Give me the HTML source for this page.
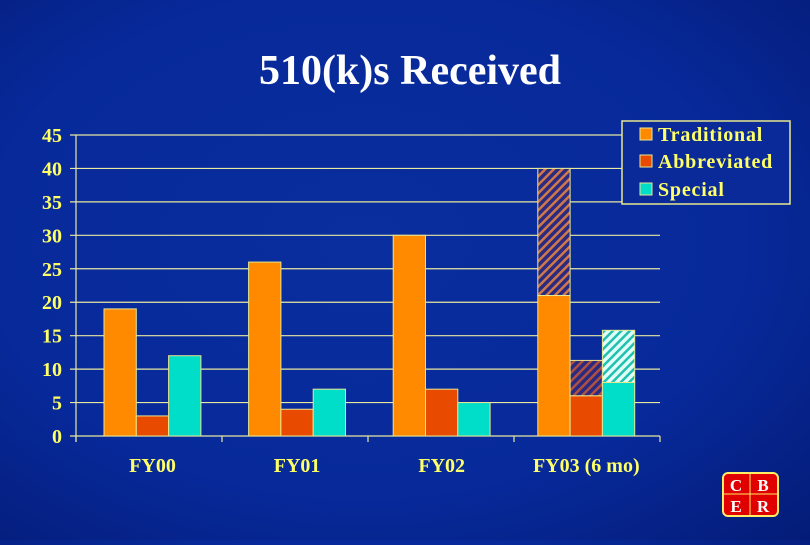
<!DOCTYPE html>
<html><head><meta charset="utf-8"><style>
html,body{margin:0;padding:0;}
body{width:810px;height:540px;overflow:hidden;background:radial-gradient(ellipse at 45% 45%,#0a2e9e 0%,#07299a 60%,#041c78 100%);}
svg text{font-family:"Liberation Serif",serif;font-weight:bold;}
</style></head><body>
<svg id="chart" width="810" height="540" viewBox="0 0 810 540" xmlns="http://www.w3.org/2000/svg">
<defs>
<pattern id="hatchO" patternUnits="userSpaceOnUse" width="6" height="6" patternTransform="rotate(45)">
<rect width="6" height="6" fill="#2a2a80"/><rect width="2.5" height="6" fill="#d0784a"/></pattern>
<pattern id="hatchR" patternUnits="userSpaceOnUse" width="6" height="6" patternTransform="rotate(45)">
<rect width="6" height="6" fill="#2a2a80"/><rect width="2.5" height="6" fill="#b05040"/></pattern>
<pattern id="hatchS" patternUnits="userSpaceOnUse" width="6" height="6" patternTransform="rotate(45)">
<rect width="6" height="6" fill="#e0fff8"/><rect width="2.5" height="6" fill="#20c0b0"/></pattern>
</defs>
<text x="410" y="84" text-anchor="middle" fill="#ffffff" font-size="42">510(k)s Received</text>
<g id="grid"></g><g id="bars"></g><g id="axes"></g>
<g>
<rect x="622" y="121" width="168" height="83" fill="#0a2a9a" stroke="#e8e890" stroke-width="1.5"/>
<rect x="640" y="128" width="12" height="12" fill="#ff8a00" stroke="#e8e890"/>
<text x="658" y="141" fill="#ffff66" font-size="20" letter-spacing="0.8">Traditional</text>
<rect x="640" y="155" width="12" height="12" fill="#e84a00" stroke="#e8e890"/>
<text x="658" y="168" fill="#ffff66" font-size="20" letter-spacing="0.8">Abbreviated</text>
<rect x="640" y="183" width="12" height="12" fill="#00ddc8" stroke="#e8e890"/>
<text x="658" y="196" fill="#ffff66" font-size="20" letter-spacing="0.8">Special</text>
</g>
<g>
<rect x="723" y="473" width="55" height="43" rx="5" fill="#e00000" stroke="#ffee66" stroke-width="2"/>
<line x1="750" y1="474" x2="750" y2="515" stroke="#ffee66"/><line x1="724" y1="494" x2="777" y2="494" stroke="#ffee66"/>
<text x="736" y="491" fill="#fff" font-size="17" font-weight="normal" text-anchor="middle">C</text>
<text x="763" y="491" fill="#fff" font-size="17" font-weight="normal" text-anchor="middle">B</text>
<text x="736" y="512" fill="#fff" font-size="17" font-weight="normal" text-anchor="middle">E</text>
<text x="763" y="512" fill="#fff" font-size="17" font-weight="normal" text-anchor="middle">R</text>
</g>
</svg>
<script>
const categories=["FY00","FY01","FY02","FY03 (6 mo)"];
const traditional=[19,26,30,21];
const abbreviated=[3,4,7,6];
const special=[12,7,5,8];
const projTraditional=[null,null,null,40];
const projAbbreviated=[null,null,null,11.3];
const projSpecial=[null,null,null,15.8];
const yTicks=[0,5,10,15,20,25,30,35,40,45];
const NS="http://www.w3.org/2000/svg";
const X0=76,X1=660,Y0=436,Y1=135,YMAX=45;
const y=v=>Y0-(v/YMAX)*(Y0-Y1);
const cw=(X1-X0)/categories.length;
const xc=i=>X0+i*cw;
const gx=i=>X0+28+i*144.6;
function mk(t,a,p){const e=document.createElementNS(NS,t);for(const k in a)e.setAttribute(k,a[k]);p.appendChild(e);return e;}
const grid=document.getElementById('grid'),bars=document.getElementById('bars'),axes=document.getElementById('axes');
yTicks.forEach(t=>{
 const l=mk('line',{x1:X0-6,x2:X1,y1:y(t),y2:y(t),stroke:'#e8e8a0','stroke-width':1.2},grid);
 
 
 const tx=mk('text',{x:62,y:y(t)+7,'text-anchor':'end',fill:'#ffff66','font-size':20},axes);
 tx.textContent=t;
 
 
});
mk('line',{x1:X0,x2:X0,y1:Y1,y2:Y0+6,stroke:'#e8e8a0','stroke-width':1.2},axes);
for(let i=0;i<=categories.length;i++)mk('line',{x1:xc(i),x2:xc(i),y1:Y0,y2:Y0+6,stroke:'#e8e8a0','stroke-width':1.2},axes);
const series=[[traditional,projTraditional,'#ff8a00','url(#hatchO)','traditional'],[abbreviated,projAbbreviated,'#e84a00','url(#hatchR)','abbreviated'],[special,projSpecial,'#00ddc8','url(#hatchS)','special']];
const bw=32.3;
categories.forEach((c,i)=>{
 series.forEach((s,j)=>{
  const bx=gx(i)+j*bw;
  const v=s[0][i],p=s[1][i];
  if(p!=null){
   const h=mk('rect',{x:bx,y:y(p),width:bw,height:y(v)-y(p),fill:s[3],stroke:'#e8e890','stroke-width':1},bars);
   
   
  }
  const r=mk('rect',{x:bx,y:y(v),width:bw,height:Y0-y(v),fill:s[2],stroke:'#e8e890','stroke-width':1},bars);
  
  
 });
 const t=mk('text',{x:gx(i)+48.5,y:472,'text-anchor':'middle',fill:'#ffff66','font-size':20},axes);
 t.textContent=c;
 
 
});
</script>
</body></html>
